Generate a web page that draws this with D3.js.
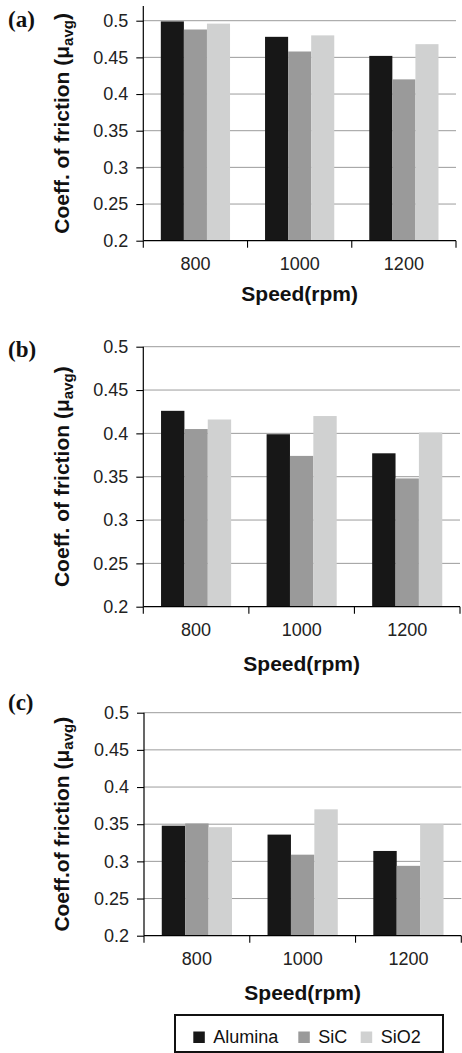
<!DOCTYPE html>
<html>
<head>
<meta charset="utf-8">
<script src="https://cdn.jsdelivr.net/npm/d3@7"></script>
<style>
  html, body { margin: 0; padding: 0; background: #fff; }
  svg { display: block; }
</style>
</head>
<body>
<svg id="chart" width="462" height="1053" font-family='"Liberation Sans", Arial, sans-serif'></svg>
<script>
// ---- data ----
const categories = ["800", "1000", "1200"];
const seriesNames = ["Alumina", "SiC", "SiO2"];
const yTicks = [0.2, 0.25, 0.3, 0.35, 0.4, 0.45, 0.5];
const yTickLabels = ["0.2", "0.25", "0.3", "0.35", "0.4", "0.45", "0.5"];

// panel (a)
const aluminaA = [0.499, 0.478, 0.452];
const sicA     = [0.488, 0.458, 0.420];
const sio2A    = [0.496, 0.480, 0.468];
// panel (b)
const aluminaB = [0.426, 0.399, 0.377];
const sicB     = [0.405, 0.374, 0.348];
const sio2B    = [0.416, 0.420, 0.401];
// panel (c)
const aluminaC = [0.348, 0.336, 0.314];
const sicC     = [0.351, 0.309, 0.294];
const sio2C    = [0.346, 0.370, 0.350];

const panelLetters = ["(a)", "(b)", "(c)"];
const yTitles = ["Coeff. of friction (μ", "Coeff. of friction (μ", "Coeff.of friction (μ"];
const xTitle = "Speed(rpm)";

// ---- styles / layout ----
const colors = ["#171717", "#9a9a9a", "#d0d1d1"];
const panels = [
  { values: [aluminaA, sicA, sio2A], top: 20.7, bottom: 240.7, left: 143.3, right: 456, axisTop: 0.52, letterY: 26.5, titleY: 301 },
  { values: [aluminaB, sicB, sio2B], top: 346.7, bottom: 606.7, left: 143.3, right: 460, axisTop: 0.5, letterY: 356.5, titleY: 670.7 },
  { values: [aluminaC, sicC, sio2C], top: 712.7, bottom: 935.7, left: 144, right: 461.3, axisTop: 0.5, letterY: 710, titleY: 1000 }
];

const svg = d3.select("#chart");

panels.forEach((p, pi) => {
  const g = svg.append("g");
  const y = d3.scaleLinear().domain([0.2, 0.5]).range([p.bottom, p.top]);
  const x0 = d3.scaleBand().domain(categories).range([p.left, p.right]).paddingInner(0).paddingOuter(0);
  const bw = x0.bandwidth();
  const off = bw * 0.168;
  const x1 = d3.scaleBand().domain(seriesNames).range([off, bw - off]).padding(0);

  // gridlines
  g.append("g").selectAll("line").data(yTicks.slice(1)).join("line")
    .attr("x1", p.left).attr("x2", p.right)
    .attr("y1", d => y(d)).attr("y2", d => y(d))
    .attr("stroke", "#9c9c9c").attr("stroke-width", 1);

  // bars
  const rows = categories.map((c, ci) => ({ c, vals: seriesNames.map((s, si) => ({ s, si, v: p.values[si][ci] })) }));
  g.append("g").selectAll("g").data(rows).join("g")
    .attr("transform", d => `translate(${x0(d.c)},0)`)
    .selectAll("rect").data(d => d.vals).join("rect")
      .attr("x", d => x1(d.s))
      .attr("width", x1.bandwidth())
      .attr("y", d => y(d.v))
      .attr("height", d => y(0.2) - y(d.v))
      .attr("fill", d => colors[d.si]);

  // y axis
  const yAxis = d3.axisLeft(y).tickValues(yTicks)
    .tickFormat((d, i) => yTickLabels[i]).tickSize(7).tickPadding(8);
  const ya = g.append("g").attr("transform", `translate(${p.left},0)`).call(yAxis);
  ya.attr("font-family", null);
  ya.select(".domain").remove();
  ya.append("line").attr("x1", 0).attr("x2", 0)
    .attr("y1", y(p.axisTop)).attr("y2", y(0.2)).attr("stroke", "#000").attr("stroke-width", 1.2);
  ya.selectAll(".tick line").attr("stroke", "#000").attr("stroke-width", 1.1);
  ya.selectAll(".tick text").attr("font-size", "18px").attr("fill", "#222");

  // x axis
  g.append("line").attr("x1", p.left).attr("x2", p.right)
    .attr("y1", y(0.2)).attr("y2", y(0.2)).attr("stroke", "#000").attr("stroke-width", 1.2);
  const bounds = categories.map(c => x0(c)).concat([x0(categories[categories.length - 1]) + bw]);
  g.append("g").selectAll("line").data(bounds).join("line")
    .attr("x1", d => d).attr("x2", d => d)
    .attr("y1", y(0.2)).attr("y2", y(0.2) + 7)
    .attr("stroke", "#000").attr("stroke-width", 1.1);
  g.append("g").selectAll("text").data(categories).join("text")
    .attr("x", d => x0(d) + bw / 2)
    .attr("y", y(0.2) + 29)
    .attr("text-anchor", "middle")
    .attr("font-size", "18px").attr("fill", "#222")
    .text(d => d);

  // x title
  g.append("text")
    .attr("x", (p.left + p.right) / 2)
    .attr("y", p.titleY)
    .attr("text-anchor", "middle")
    .attr("font-size", "21px").attr("font-weight", "bold").attr("fill", "#111")
    .text(xTitle);

  // y title
  const cy = (y(p.axisTop) + y(0.2)) / 2;
  const yt = g.append("text")
    .attr("transform", `translate(69,${cy}) rotate(-90)`)
    .attr("text-anchor", "middle")
    .attr("font-size", "21px").attr("font-weight", "bold").attr("fill", "#111");
  yt.append("tspan").text(yTitles[pi]);
  yt.append("tspan").attr("font-size", "15px").attr("dy", 4).text("avg");
  yt.append("tspan").attr("dy", -4).text(")");

  // panel letter
  g.append("text")
    .attr("x", 8).attr("y", p.letterY)
    .attr("font-family", '"Liberation Serif", "Times New Roman", serif')
    .attr("font-weight", "bold").attr("font-size", "23px").attr("fill", "#111")
    .text(panelLetters[pi]);
});

// legend
const lg = svg.append("g");
lg.append("rect").attr("x", 175).attr("y", 1015).attr("width", 268).attr("height", 37)
  .attr("fill", "#fff").attr("stroke", "#111").attr("stroke-width", 2);
const legendX = [193.3, 298.3, 360.7];
const items = lg.selectAll("g.item").data(seriesNames).join("g").attr("class", "item")
  .attr("transform", (d, i) => `translate(${legendX[i]},0)`);
items.append("rect").attr("x", 0).attr("y", 1031.5).attr("width", 11.5).attr("height", 11.5)
  .attr("fill", (d, i) => colors[i]);
items.append("text").attr("x", 20).attr("y", 1042.7)
  .attr("font-size", "18px").attr("fill", "#111").text(d => d);
</script>
</body>
</html>
